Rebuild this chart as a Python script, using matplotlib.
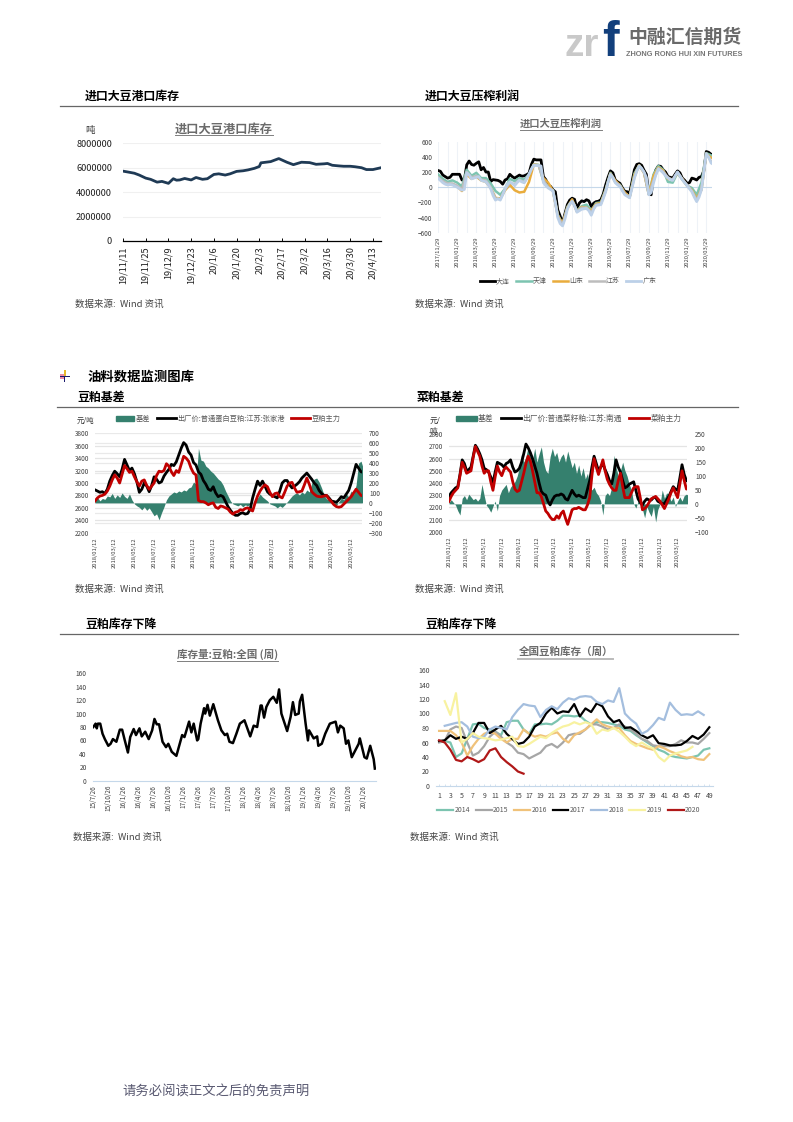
import numpy as np
import matplotlib
matplotlib.use("Agg")
import matplotlib.pyplot as plt
from matplotlib.patches import Rectangle, Patch

plt.rcParams['font.family'] = ['Noto Sans CJK SC', 'DejaVu Sans']
W, H = 793, 1122

# ---------- chart 1: port soybean stock ----------
port_labels = ['19/11/11','19/11/25','19/12/9','19/12/23','20/1/6','20/1/20','20/2/3','20/2/17','20/3/2','20/3/16','20/3/30','20/4/13']
port_days = [0,3,7,10,14,17,21,24,28,31,33,35,38,42,45,49,52,56,59,63,66,70,74,77,81,84,85,91,96,101,105,110,115,119,124,126,129,133,136,140,143,147,150,154,159]
port_vals = [5.72,5.65,5.55,5.4,5.15,5.05,4.82,4.88,4.72,5.1,4.98,5.0,5.12,5.0,5.2,5.05,5.1,5.45,5.5,5.4,5.5,5.7,5.75,5.82,5.95,6.1,6.4,6.5,6.75,6.45,6.25,6.45,6.42,6.28,6.32,6.35,6.2,6.15,6.12,6.12,6.08,6.0,5.85,5.85,6.0]

# ---------- chart 2: crush margin ----------
margin_labels = ['2017/11/29','2018/01/29','2018/03/29','2018/05/29','2018/07/29','2018/09/29','2018/11/29','2019/01/29','2019/03/29','2019/05/29','2019/07/29','2019/09/29','2019/11/29','2020/01/29','2020/03/29']
margin_dalian = [220,210,160,140,120,130,170,170,170,170,95,95,295,345,300,290,315,335,230,260,200,200,75,100,95,90,75,40,95,110,170,140,120,140,160,145,150,165,185,300,370,360,360,360,140,100,30,10,-35,-60,-300,-380,-475,-350,-230,-170,-145,-160,-280,-210,-180,-190,-165,-180,-255,-210,-190,-185,-165,-90,30,130,215,190,95,70,50,-10,-55,-60,-80,70,230,300,310,290,225,170,-80,-100,140,230,280,275,230,200,140,130,120,170,215,190,120,90,50,60,120,110,95,130,140,220,470,460,435,425]
margin_tianjin = [170,110,70,90,60,10,230,150,190,120,120,50,-50,-100,-20,110,80,120,100,170,300,295,80,10,-40,-360,-490,-260,-170,-310,-250,-230,-310,-210,-200,-30,190,70,30,-80,-130,180,290,200,-90,170,280,230,70,60,190,100,20,-10,-100,60,450,420]
margin_shandong = [130,70,30,40,10,-50,170,110,140,90,70,-10,-140,-150,-40,30,-40,-70,-60,70,300,290,120,60,-50,-370,-480,-270,-160,-320,-260,-270,-310,-220,-210,-40,180,90,20,-70,-130,160,290,190,-90,150,260,220,110,100,190,110,20,-40,-150,-30,440,390]
margin_jiangsu = [130,80,50,50,20,-30,200,130,150,100,90,-5,-150,-160,-30,60,40,100,60,170,295,290,90,0,-45,-380,-500,-280,-180,-320,-270,-270,-330,-230,-220,-50,175,70,20,-90,-135,130,285,195,-95,90,250,205,130,95,200,105,30,-50,-170,-35,445,340]
margin_guangdong = [120,90,60,40,30,35,30,15,0,-20,-40,-30,190,160,110,120,130,140,90,80,70,30,-20,-110,-170,-150,-170,-100,-20,40,70,50,20,60,90,70,60,110,170,240,290,285,285,280,60,20,-10,-30,-50,-200,-400,-480,-510,-420,-290,-220,-190,-240,-330,-310,-290,-285,-280,-310,-370,-290,-240,-235,-230,-150,-60,70,170,130,60,30,10,-50,-100,-120,-140,-10,120,220,280,250,200,130,-100,-70,60,170,240,220,190,150,120,100,90,150,200,150,100,60,20,-20,-60,-130,-190,-130,-30,200,440,400,320,300]

# ---------- chart 3: soymeal basis ----------
meal_labels = ['2018/01/12','2018/03/12','2018/05/12','2018/07/12','2018/09/12','2018/11/12','2019/01/12','2019/03/12','2019/05/12','2019/07/12','2019/09/12','2019/11/12','2020/01/12','2020/03/12']
meal_price = [2890,2870,2850,2860,2830,2900,3030,3120,3190,3150,3100,3220,3380,3290,3200,3240,3150,3020,2850,2900,3000,2950,2860,2960,3100,3060,3000,3020,3110,3170,3220,3300,3280,3340,3450,3560,3650,3610,3500,3450,3330,3290,3180,3140,3040,2980,2900,2880,2940,2840,2780,2800,2780,2700,2620,2560,2510,2480,2480,2510,2520,2500,2510,2580,2760,2900,3030,2960,3030,2950,2860,2820,2800,2780,2760,2870,3000,3040,3040,2970,2920,2950,2980,3020,3080,3120,3160,3110,3060,3000,2960,2880,2830,2800,2800,2760,2710,2700,2690,2730,2780,2760,2820,2880,3000,3150,3300,3240,3180,3170]
meal_future = [2710,2760,2790,2800,2820,2870,2950,3050,3130,3080,3000,3140,3280,3230,3170,3190,3100,3020,2950,3030,3050,2960,2900,2950,3000,3120,3190,3180,3200,3310,3270,3180,3120,3200,3170,3300,3430,3400,3350,3240,3160,3130,2720,2700,2700,2680,2650,2670,2680,2610,2590,2630,2620,2600,2580,2530,2500,2530,2540,2570,2560,2590,2600,2570,2550,2680,2790,2870,2930,2970,2940,2850,2780,2830,2840,2780,2760,2850,2950,3000,3010,2920,2850,2860,2870,2970,3080,2980,2860,2820,2790,2780,2780,2790,2800,2740,2700,2650,2620,2610,2620,2660,2700,2740,2780,2840,2900,2850,2800,2790]
meal_basis = [30,55,20,45,35,70,60,95,45,80,55,100,65,45,90,30,-10,-30,-45,-70,-40,-75,-50,-90,-130,-110,-170,-100,-40,30,70,90,110,100,120,110,130,120,150,160,210,190,550,430,420,370,350,320,300,270,240,220,180,120,70,20,-10,-20,-30,-15,-40,-20,-30,-10,0,30,50,90,60,40,20,-10,-20,-30,-50,-30,-45,-20,10,40,70,90,100,80,110,90,130,110,200,240,250,210,150,80,40,30,0,-15,-25,10,50,30,90,60,120,90,180,400,420,340,300]

# ---------- chart 4: rapeseed meal basis ----------
rape_price = [2290,2320,2340,2360,2370,2470,2590,2560,2500,2510,2530,2620,2710,2680,2640,2590,2520,2510,2490,2450,2400,2490,2570,2560,2550,2530,2560,2570,2590,2530,2490,2500,2520,2570,2640,2720,2690,2650,2600,2540,2480,2400,2330,2310,2300,2250,2220,2260,2290,2300,2300,2310,2300,2270,2260,2300,2340,2310,2290,2300,2290,2280,2280,2350,2420,2530,2620,2560,2500,2530,2560,2510,2470,2420,2390,2480,2590,2530,2490,2420,2360,2370,2390,2400,2410,2340,2270,2240,2220,2250,2270,2260,2260,2280,2280,2250,2240,2230,2230,2260,2290,2330,2370,2350,2340,2440,2550,2470,2420,2410]
rape_future = [2250,2290,2320,2340,2360,2460,2570,2530,2480,2490,2500,2610,2700,2660,2620,2540,2480,2500,2500,2410,2340,2450,2540,2490,2460,2510,2530,2510,2490,2410,2350,2330,2340,2410,2480,2560,2620,2580,2500,2410,2320,2320,2290,2230,2170,2150,2120,2100,2100,2130,2110,2150,2170,2110,2060,2120,2180,2190,2190,2200,2190,2180,2180,2220,2280,2460,2600,2530,2470,2530,2590,2500,2430,2390,2360,2340,2340,2420,2480,2370,2280,2280,2280,2320,2360,2370,2370,2280,2180,2190,2210,2240,2270,2280,2290,2270,2250,2220,2190,2230,2270,2320,2360,2320,2280,2390,2500,2420,2350,2360]
rape_basis = [5,15,5,-5,-25,-40,20,30,15,35,25,15,20,10,20,70,30,-5,-15,-30,-8,10,-25,30,50,60,70,40,60,70,80,100,130,180,150,170,205,170,160,200,150,180,205,150,120,110,170,200,170,185,150,170,180,150,190,160,130,150,110,140,100,130,90,110,60,50,60,40,30,10,-40,30,40,30,60,175,130,100,120,150,120,100,70,50,0,-15,10,30,-20,-50,-10,-30,-45,-10,-65,-20,0,50,20,40,30,10,25,-10,10,25,10,30,35,30]

# ---------- chart 5: soymeal stock history ----------
stock_labels = ['15/7/26','15/10/26','16/1/26','16/4/26','16/7/26','16/10/26','17/1/26','17/4/26','17/7/26','17/10/26','18/1/26','18/4/26','18/7/26','18/10/26','19/1/26','19/4/26','19/7/26','19/10/26','20/1/26']
stock_weeks = [0,2,3,4,6,8,10,13,15,17,20,23,25,27,30,32,35,37,40,42,45,48,51,53,55,57,60,63,65,68,72,77,79,83,85,87,90,91,93,96,97,99,101,104,108,111,114,116,118,121,124,127,131,136,139,142,145,146,148,150,153,156,159,161,163,168,171,173,175,178,179,181,184,186,187,191,194,195,198,201,205,210,212,214,217,219,221,224,230,231,235,237,240,243,244]
stock_vals = [80,85,78,85,85,70,62,52,55,62,58,76,76,62,42,65,77,68,78,66,73,62,75,92,84,84,58,50,55,43,37,68,65,88,72,85,60,62,85,108,100,113,97,114,90,75,68,70,58,56,70,85,90,66,82,80,112,112,94,110,120,125,116,136,100,74,95,117,98,100,118,128,85,60,75,63,66,52,55,70,85,88,72,82,78,55,60,35,55,63,35,33,52,32,18]

# ---------- chart 6: soymeal stock by year ----------
year_weeks = list(range(1, 50))
y2014 = [62,62,60,40,45,65,85,86,80,78,75,70,88,90,90,78,72,85,85,86,85,90,97,97,96,97,90,85,88,88,87,85,83,78,76,70,65,60,55,50,47,42,40,39,38,40,42,50,52]
y2015 = [60,62,78,82,80,60,42,46,55,68,75,68,60,55,46,44,38,42,46,55,58,53,60,70,72,72,78,85,85,82,78,80,85,82,78,72,65,62,56,55,55,55,58,63,60,60,58,65,73]
y2016 = [76,76,76,70,60,42,55,65,72,75,72,65,60,65,65,78,72,68,70,68,72,74,65,60,70,74,78,85,92,85,82,80,80,70,62,58,55,52,50,55,52,48,45,41,39,40,37,36,44]
y2017 = [62,63,70,65,68,65,73,87,87,73,78,83,72,65,58,60,68,82,87,100,108,100,103,102,113,96,107,102,114,110,96,88,91,80,81,76,70,66,70,59,58,56,56,57,62,69,65,71,81]
y2018 = [83,85,87,88,82,68,66,68,78,82,80,78,95,105,113,111,110,95,105,110,106,115,121,119,123,124,123,116,113,118,116,135,100,92,86,72,76,84,94,91,115,105,98,99,98,103,98]
y2019 = [117,98,128,60,65,73,68,66,65,63,64,66,68,55,54,58,63,68,66,73,78,82,84,88,85,88,85,72,78,76,80,75,68,60,55,60,55,52,40,34,42,45,47,49,54]
y2020 = [63,60,50,36,34,40,37,33,37,49,52,40,33,27,20,17]

fig = plt.figure(figsize=(W/100, H/100), dpi=100, facecolor='white')

def box(l, t, r, b):
    return fig.add_axes([l/W, 1-b/H, (r-l)/W, (b-t)/H])

def clean(ax):
    for s in ax.spines.values():
        s.set_visible(False)

TXT = '#404040'

# chart 1
a = box(123, 143.3, 381, 241)
clean(a)
a.spines['bottom'].set_visible(True)
a.spines['bottom'].set_color('black')
a.spines['bottom'].set_linewidth(0.9)
a.plot(port_days, np.array(port_vals)*1e6, color='#1F3A55', lw=2.0)
a.set_xlim(0, 159); a.set_ylim(0, 8e6)
a.set_yticks([0, 2e6, 4e6, 6e6, 8e6]); a.set_yticklabels(['0','2000000','4000000','6000000','8000000'])
a.set_xticks(np.arange(12)*14); a.set_xticklabels(port_labels, rotation=90)
a.tick_params(axis='y', length=0, labelsize=6.6, labelcolor='#222222', pad=8)
a.tick_params(axis='x', length=2, width=0.7, direction='in', labelsize=6.6, labelcolor='#222222', pad=4)
a.grid(axis='y', color='#f0f0f0', lw=0.8); a.set_axisbelow(True)

# chart 2
a = box(438, 141.7, 712, 232.7)
clean(a)
fine = np.arange(len(margin_guangdong))*0.25
coarse = np.arange(len(margin_tianjin))*0.5
for xs, vals, col, lab, lw in [(fine,margin_dalian,'#000000','大连',2.0),(coarse,margin_tianjin,'#7CC4B0','天津',1.8),(coarse,margin_shandong,'#E9AC3C','山东',1.8),(coarse,margin_jiangsu,'#BDBDBD','江苏',1.8),(fine,margin_guangdong,'#BCD0E8','广东',2.0)]:
    a.plot(xs, vals, color=col, lw=lw, label=lab)
a.axhline(0, color='#C5D8EA', lw=0.8, zorder=1)
a.set_xlim(0, 28.6); a.set_ylim(-600, 600)
a.set_yticks(np.arange(-600, 601, 200))
a.set_xticks(np.arange(15)*2); a.set_xticklabels(margin_labels, rotation=90)
a.set_xticks(np.arange(29), minor=True)
a.grid(axis='x', which='both', color='#EEF2F7', lw=0.8); a.set_axisbelow(True)
a.tick_params(which='both', length=0)
a.tick_params(axis='y', labelsize=4.6, labelcolor=TXT, pad=4)
a.tick_params(axis='x', labelsize=4.2, labelcolor=TXT, pad=3)
a.legend(loc='center', bbox_to_anchor=(568/W, 1-281/H), bbox_transform=fig.transFigure, ncol=5, frameon=False, fontsize=5, handlelength=2.2, columnspacing=0.9, handletextpad=0.15, labelcolor='#595959')

def basis_chart(rect, price, future, basis, ylim, yticks, rlim, rticks, minor, major_grid, names, legend_x, pad_r, legend_size):
    a = box(*rect)
    b = a.twinx()
    clean(a); clean(b)
    a.set_zorder(b.get_zorder()+1); a.patch.set_visible(False)
    bx = np.arange(len(basis))*0.25
    b.fill_between(bx, 0, basis, color='#35806E', lw=0, zorder=3)
    b.set_ylim(*rlim); b.set_yticks(rticks)
    b.set_yticks(minor, minor=True)
    b.grid(axis='y', which='minor', color='#E4E4E4', lw=0.9)
    if major_grid:
        b.grid(axis='y', which='major', color='#E9E9E9', lw=0.9)
    b.tick_params(which='both', length=0)
    b.tick_params(axis='y', labelsize=4.6, labelcolor=TXT, pad=pad_r)
    px = np.arange(len(price))*0.25
    l1, = a.plot(px, price, color='black', lw=2.0)
    l2, = a.plot(px, future, color='#C00000', lw=2.0)
    a.set_xlim(0, 27.1); a.set_ylim(*ylim); a.set_yticks(yticks)
    a.set_xticks(np.arange(14)*2); a.set_xticklabels(meal_labels, rotation=90)
    a.tick_params(length=0)
    a.tick_params(axis='y', labelsize=4.6, labelcolor=TXT, pad=4)
    a.tick_params(axis='x', labelsize=4.2, labelcolor=TXT, pad=3.6)
    a.legend([Patch(color='#35806E'), l1, l2], names, loc='center', bbox_to_anchor=(legend_x/W, 1-419/H), bbox_transform=fig.transFigure, ncol=3, frameon=False, fontsize=legend_size, handlelength=2.6, columnspacing=0.9, handletextpad=0.2, labelcolor='#595959')

basis_chart((95, 433.3, 362, 532.7), meal_price, meal_future, meal_basis, (2200, 3800), np.arange(2200, 3801, 200),
            (-300, 700), np.arange(-300, 701, 100), -300+125*np.arange(9), True,
            ['基差', '出厂价:普通蛋白豆粕:江苏:张家港', '豆粕主力'], 228, 5, 5.2)
basis_chart((449, 434.3, 687.3, 531.7), rape_price, rape_future, rape_basis, (2000, 2800), np.arange(2000, 2801, 100),
            (-100, 250), np.arange(-100, 251, 50), -100+43.75*np.arange(9), False,
            ['基差', '出厂价:普通菜籽粕:江苏:南通', '菜粕主力'], 569, 5.6, 5.6)

# chart 5
a = box(93.3, 673.3, 376, 780.7)
clean(a)
a.spines['bottom'].set_visible(True); a.spines['bottom'].set_color('#C5D8EA'); a.spines['bottom'].set_linewidth(0.8)
a.plot(stock_weeks, stock_vals, color='black', lw=1.8)
a.set_xlim(0, 245); a.set_ylim(0, 160); a.set_yticks(np.arange(0, 161, 20))
a.set_xticks(np.arange(19)*13); a.set_xticklabels(stock_labels, rotation=90)
a.tick_params(length=0)
a.tick_params(axis='y', labelsize=4.8, labelcolor=TXT, pad=4.7)
a.tick_params(axis='x', labelsize=4.6, labelcolor=TXT, pad=3)

# chart 6
a = box(436, 670, 712.7, 786)
clean(a)
a.spines['bottom'].set_visible(True); a.spines['bottom'].set_color('#C5D8EA'); a.spines['bottom'].set_linewidth(0.8)
series = [(y2014,'#7CC4B0','2014',1),(y2015,'#A6A6A6','2015',1),(y2016,'#F0C27A','2016',1),(y2017,'#000000','2017',1),(y2018,'#A4BEDE','2018',2),(y2019,'#F8F2A0','2019',2),(y2020,'#B01818','2020',1)]
for vals, col, lab, first in series:
    a.plot(year_weeks[first-1:first-1+len(vals)], vals, color=col, lw=1.6, label=lab)
a.set_xlim(0.45, 49.6); a.set_ylim(0, 160); a.set_yticks(np.arange(0, 161, 20))
a.set_xticks(np.arange(1, 50, 2))
a.set_xticks(np.arange(1, 50), minor=True)
a.tick_params(axis='x', which='both', length=1.5, width=0.5, color='#C5D8EA', direction='in')
a.tick_params(axis='y', length=0, labelsize=5, labelcolor=TXT, pad=4.5)
a.tick_params(axis='x', labelsize=5, labelcolor=TXT, pad=4)
a.legend(loc='center', bbox_to_anchor=(569/W, 1-810/H), bbox_transform=fig.transFigure, ncol=7, frameon=False, fontsize=5, handlelength=2.3, columnspacing=0.8, handletextpad=0.2, labelcolor='#595959')

# overlay in page pixels
o = fig.add_axes([0, 0, 1, 1], zorder=20)
o.set_xlim(0, W); o.set_ylim(H, 0); o.axis('off'); o.patch.set_visible(False)

def head(x, y, s, size=8.6):
    o.text(x, y, s, fontsize=size, fontweight='bold', color='black', ha='left', va='center')
def src(x, y):
    o.text(x, y, '数据来源:  Wind 资讯', fontsize=6.8, color='#444444', ha='left', va='center')
def title(x, y, s, size, uy, ulw=0.7, ucol='#7F7F7F'):
    t = o.text(x, y, s, fontsize=size, fontweight='bold', color='#6B6B6B', ha='center', va='center')
    fig.canvas.draw()
    bb = t.get_window_extent()
    o.plot([bb.x0, bb.x1], [uy, uy], color=ucol, lw=ulw)

for y, x0 in [(106, 60), (406.5, 57), (634, 60)]:
    o.plot([x0, 738], [y, y], color='#666666', lw=0.9)

head(85, 96, '进口大豆港口库存'); head(425, 96, '进口大豆压榨利润')
head(88, 377, '油料数据监测图库', 9.6)
head(77, 397, '豆粕基差'); head(417, 397, '菜粕基差')
head(85, 624, '豆粕库存下降'); head(425, 624, '豆粕库存下降')
for x, y in [(75, 304), (415, 304), (75, 589), (415, 589), (73, 837), (410, 837)]:
    src(x, y)

title(224, 129, '进口大豆港口库存', 8.8, 135)
title(560.7, 124, '进口大豆压榨利润', 7.4, 129.5)
title(227.7, 654, '库存量:豆粕:全国 (周)', 7.6, 660.5)
title(565.7, 652, '全国豆粕库存（周）', 7.6, 658.5, 1.4, '#BBBBBB')

o.text(90, 130, '吨', fontsize=6.8, color='#333333', ha='center', va='center')
o.text(86, 420.5, '元/吨', fontsize=5.3, color='#333333', ha='center', va='center')
o.text(435, 421, '元/', fontsize=5.6, color='#333333', ha='center', va='center')
o.text(433, 432, '吨', fontsize=5.6, color='#333333', ha='center', va='center')

o.text(122, 1092, '请务必阅读正文之后的免责声明', fontsize=9.6, color='#5A5A72', ha='left', va='center')

# logo
o.text(564, 56, 'zr', fontsize=28, fontweight='bold', family='Liberation Sans', color='#C9C9C9', ha='left', va='baseline')
o.text(602, 56, 'f', fontsize=36, fontweight='bold', family='Liberation Sans', color='#123F7C', ha='left', va='baseline')
o.text(684.5, 37, '中融汇信期货', fontsize=13.6, fontweight='bold', color='#6A6A6A', ha='center', va='center')
o.text(684.5, 54, 'ZHONG RONG HUI XIN FUTURES', fontsize=5.3, fontweight='bold', family='Liberation Sans', color='#777777', ha='center', va='center')

# section bullet
o.add_patch(Rectangle((59.5, 373.5), 5, 5.5, color='#E98AA8', lw=0))
o.add_patch(Rectangle((63.5, 370), 2, 7, color='#E8B92C', lw=0))
o.add_patch(Rectangle((64, 376), 1.2, 6, color='#1A1A6E', lw=0))
o.add_patch(Rectangle((60, 376), 10, 1.2, color='#1A1A6E', lw=0))

fig.savefig('out.png', dpi=100, facecolor='white')
